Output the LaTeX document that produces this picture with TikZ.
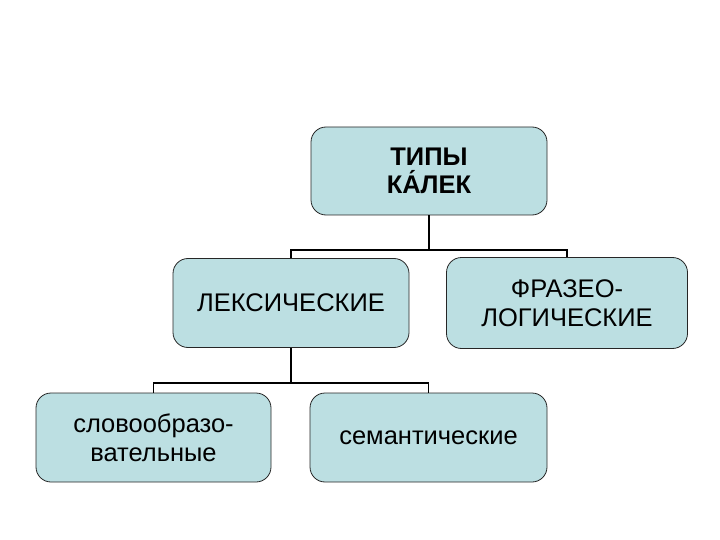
\documentclass[tikz,border=0pt]{standalone}
\usepackage{fontspec}
\setmainfont{Liberation Sans}
\usetikzlibrary{positioning}

\definecolor{boxfill}{RGB}{188,223,226}

\tikzset{
    typebox/.style={draw=black!85, fill=boxfill, rounded corners=15pt, line width=0.8pt,
        align=center, inner sep=0pt, font=\fontsize{25.5}{29}\selectfont},
    link/.style={line width=1.8pt}
}

\begin{document}
\begin{tikzpicture}[x=1pt, y=-1pt]

        \useasboundingbox (0,0) rectangle (720,540);

        % Root
        \node[typebox, minimum width=236pt, minimum height=88pt, font=\fontsize{25.5}{28}\selectfont\bfseries]
            (top) at (429,171) {ТИПЫ\\КА́ЛЕК};

        % Second level
        \node[typebox, minimum width=236pt, minimum height=89pt] (lex) at (291,303) {ЛЕКСИЧЕСКИЕ};
        \node[typebox, minimum width=241pt, minimum height=91pt] (phr) at (567,303) {ФРАЗЕО-\\ЛОГИЧЕСКИЕ};

        % Third level
        \node[typebox, minimum width=235pt, minimum height=89pt] (wordf) at (153.5,437.5) {словообразо-\\вательные};
        \node[typebox, minimum width=237pt, minimum height=89pt] (sem) at (428.5,437.5) {семантические};

        % Branch points
        \coordinate (fork1) at (429,250);
        \coordinate (fork2) at (291,383);

        % Connectors
        \draw[link] (top.south) -- (fork1);
        \draw[link] (lex.north) |- (fork1) -| (phr.north);
        \draw[link] (lex.south) -- (fork2);
        \draw[link] (wordf.north) |- (fork2) -| (sem.north);

    \end{tikzpicture}
\end{document}
